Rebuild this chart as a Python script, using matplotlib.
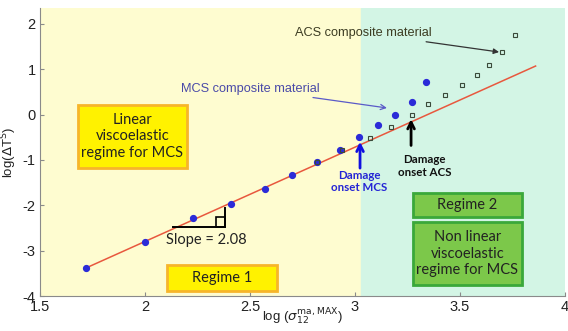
import matplotlib
matplotlib.use("Agg")
import matplotlib.pyplot as plt
from matplotlib.patches import Rectangle

# ---- data ----
mcs_x = [1.72, 2.00, 2.23, 2.41, 2.57, 2.70, 2.82, 2.93, 3.02, 3.11, 3.19, 3.27, 3.34]
mcs_y = [-3.38, -2.81, -2.27, -1.96, -1.63, -1.33, -1.04, -0.77, -0.49, -0.24, 0.00, 0.27, 0.73]
acs_x = [2.82, 2.94, 3.07, 3.17, 3.27, 3.35, 3.43, 3.51, 3.58, 3.64, 3.70, 3.76]
acs_y = [-1.04, -0.77, -0.51, -0.27, -0.01, 0.23, 0.44, 0.65, 0.87, 1.10, 1.38, 1.76]
fit_x = [1.72, 3.86]
fit_slope = 2.08
fit_y0 = -3.38
regime_split = 3.03
xticks = [1.5, 2, 2.5, 3, 3.5, 4]
xticklabels = ["1.5", "2", "2.5", "3", "3.5", "4"]
yticks = [-4, -3, -2, -1, 0, 1, 2]
yticklabels = ["-4", "-3", "-2", "-1", "0", "1", "2"]

fig = plt.figure(figsize=(5.68, 3.31), dpi=100)
ax = fig.add_axes([0.0704, 0.1057, 0.9243, 0.870])
xmin, xmax, ymin, ymax = 1.5, 4.0, -4.0, 2.35
ax.set_xlim(xmin, xmax)
ax.set_ylim(ymin, ymax)

ax.axvspan(xmin, regime_split, color="#fefcd0", zorder=0)
ax.axvspan(regime_split, xmax, color="#d3f5e5", zorder=0)

fit_y = [fit_y0 + fit_slope * (x - fit_x[0]) for x in fit_x]
ax.plot(fit_x, fit_y, color="#e8583e", lw=1.1, zorder=2)
ax.plot(mcs_x, mcs_y, "o", color="#2b2bd8", ms=4.2, zorder=3)
ax.plot(acs_x, acs_y, "s", mfc="none", mec="#3a4a3a", mew=0.8, ms=3.3, zorder=4)

# slope triangle
ax.plot([2.133, 2.383], [-2.47, -2.47], color="black", lw=1.4, zorder=3)
ax.plot([2.383, 2.383], [-2.47, -2.05], color="black", lw=1.4, zorder=3)
ax.add_patch(Rectangle((2.336, -2.47), 0.047, 0.21, fill=False, ec="black", lw=1.2, zorder=3))
ax.text(2.29, -2.76, "Slope = 2.08", ha="center", va="center", fontsize=10.5,
        family="Lato", color="#222222")

# boxes
def box(x0, x1, y0, y1, fc, ec, text, fs=10.5):
    X0 = xmin + (x0 - 40) / 210.0
    X1 = xmin + (x1 - 40) / 210.0
    Y0 = 2 - (y1 - 24) / 45.33
    Y1 = 2 - (y0 - 24) / 45.33
    ax.add_patch(Rectangle((X0, Y0), X1 - X0, Y1 - Y0, fc=fc, ec=ec, lw=2.0, zorder=5))
    ax.text((X0 + X1) / 2, (Y0 + Y1) / 2, text, ha="center", va="center",
            fontsize=fs, family="Lato", color="#222222", linespacing=1.25, zorder=6)

box(78, 187, 105, 168, "#fff200", "#f7b52a", "Linear\nviscoelastic\nregime for MCS")
box(167, 277, 265, 291, "#fff200", "#f7b52a", "Regime 1")
box(413, 522, 193, 217, "#7cc84a", "#3aa83a", "Regime 2")
box(413, 522, 222, 285, "#7cc84a", "#3aa83a", "Non linear\nviscoelastic\nregime for MCS")

# material annotations
ax.annotate("MCS composite material", xy=(3.152, 0.147), xytext=(2.833, 0.57),
            ha="right", va="center", fontsize=9.2, family="Liberation Sans",
            color="#4a4aa8",
            arrowprops=dict(arrowstyle="->", color="#5a5ac8", lw=0.9,
                            shrinkA=0, shrinkB=0))
ax.annotate("ACS composite material", xy=(3.686, 1.38), xytext=(3.367, 1.80),
            ha="right", va="center", fontsize=9.2, family="Liberation Sans",
            color="#3c3c22",
            arrowprops=dict(arrowstyle="-|>", color="#333333", lw=0.9,
                            shrinkA=0, shrinkB=0, mutation_scale=8))

# damage onset arrows
ax.annotate("", xy=(3.024, -0.60), xytext=(3.024, -1.18),
            arrowprops=dict(arrowstyle="->", color="#1010e0", lw=2.0,
                            shrinkA=0, shrinkB=0, mutation_scale=12))
ax.text(3.02, -1.47, "Damage\nonset MCS", ha="center", va="center", fontsize=8.3,
        fontweight="bold", family="Lato", color="#2525d5", linespacing=1.15)
ax.annotate("", xy=(3.267, -0.10), xytext=(3.267, -0.68),
            arrowprops=dict(arrowstyle="->", color="black", lw=2.0,
                            shrinkA=0, shrinkB=0, mutation_scale=12))
ax.text(3.33, -1.13, "Damage\nonset ACS", ha="center", va="center", fontsize=8.3,
        fontweight="bold", family="Lato", color="#111111", linespacing=1.15)

# axes styling
for s in ["top", "right"]:
    ax.spines[s].set_visible(False)
for s in ["left", "bottom"]:
    ax.spines[s].set_color("#8a8a8a")
    ax.spines[s].set_linewidth(0.8)
ax.set_xticks(xticks)
ax.set_xticklabels(xticklabels)
ax.set_yticks(yticks)
ax.set_yticklabels(yticklabels)
ax.tick_params(direction="in", length=3, color="#8a8a8a", labelsize=10.5,
               labelcolor="#222222", pad=3)
for lab in ax.get_xticklabels() + ax.get_yticklabels():
    lab.set_family("Liberation Sans")

ax.set_xlabel(r"log ($\sigma_{12}^{\mathrm{ma,MAX}}$)", fontsize=9.5,
              family="Liberation Sans", labelpad=0, color="#222222")
ax.set_ylabel(r"log($\Delta$T$^{\mathrm{S}}$)", fontsize=9.5,
              family="Liberation Sans", labelpad=0, color="#222222")
ax.xaxis.set_label_coords(0.50, -0.038)
ax.yaxis.set_label_coords(-0.040, 0.5)

fig.savefig("out.png", dpi=100)
